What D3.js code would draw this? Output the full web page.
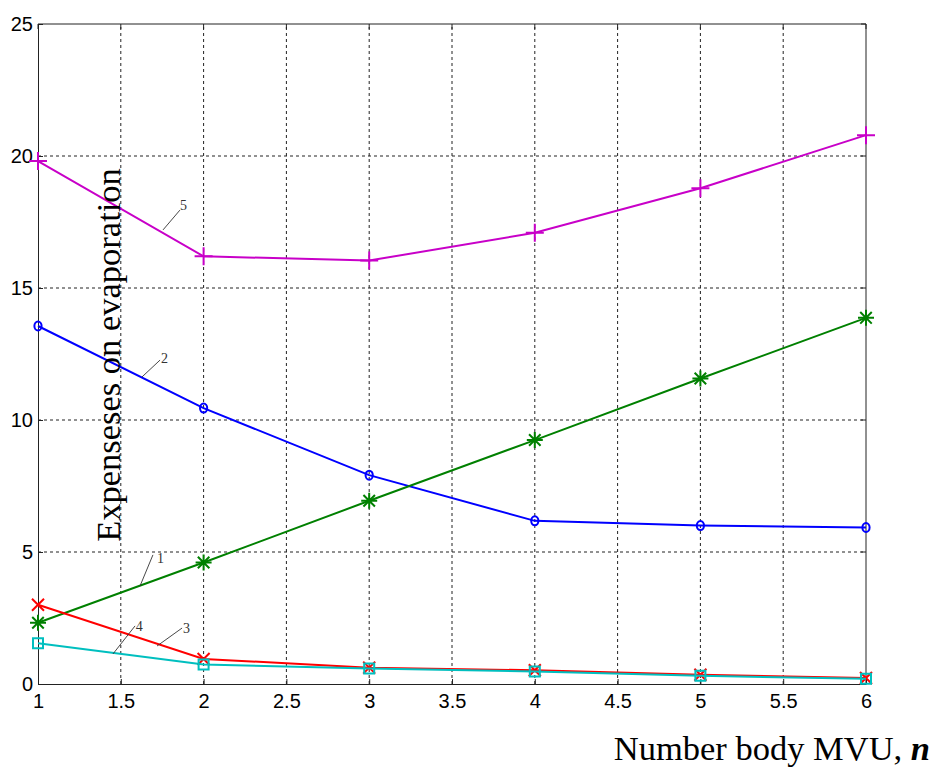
<!DOCTYPE html>
<html>
<head>
<meta charset="utf-8">
<script src="https://cdn.jsdelivr.net/npm/d3@7"></script>
<style>
  body { margin: 0; background: #fff; }
</style>
</head>
<body>
<div id="chart"></div>
<script>
'use strict';

// number of bodies on the x axis
const bodies = [1, 2, 3, 4, 5, 6];
const xTicks = [1, 1.5, 2, 2.5, 3, 3.5, 4, 4.5, 5, 5.5, 6];
const yTicks = [0, 5, 10, 15, 20, 25];

// expenses per curve
const curve1 = [2.32, 4.6, 6.94, 9.24, 11.57, 13.87];
const curve2 = [13.56, 10.45, 7.91, 6.18, 6.0, 5.93];
const curve3 = [3.0, 0.95, 0.62, 0.52, 0.35, 0.23];
const curve4 = [1.54, 0.74, 0.59, 0.47, 0.31, 0.2];
const curve5 = [19.81, 16.2, 16.04, 17.09, 18.78, 20.79];

// curve numbers with leader lines (data units)
const labelNames = ['1', '2', '3', '4', '5'];
const labelFrom = [[1.616, 3.71], [1.628, 11.63], [1.719, 1.44], [1.453, 1.14], [1.755, 17.2]];
const labelTo = [[1.694, 4.89], [1.737, 12.27], [1.87, 2.12], [1.586, 2.2], [1.857, 17.95]];
const labelAt = [[1.719, 4.58], [1.743, 12.16], [1.876, 1.93], [1.59, 2.0], [1.857, 17.95]];

const width = 935, height = 767;
const margin = {top: 24, right: 69, bottom: 83, left: 38};

const svg = d3.select('#chart')
  .append('svg')
    .attr('width', width)
    .attr('height', height);

const x = d3.scaleLinear()
  .domain([1, 6])
  .range([margin.left, width - margin.right]);

const y = d3.scaleLinear()
  .domain([0, 25])
  .range([height - margin.bottom, margin.top]);

const tickFont = '"Liberation Sans", Arial, sans-serif';
const serif = '"Liberation Serif", "Times New Roman", serif';

// grid
svg.append('g')
  .selectAll('line')
  .data(xTicks.slice(1, -1))
  .join('line')
    .attr('x1', d => x(d)).attr('x2', d => x(d))
    .attr('y1', y(0)).attr('y2', y(25))
    .attr('stroke', '#222')
    .attr('stroke-width', 1)
    .attr('stroke-dasharray', '3,3');

svg.append('g')
  .selectAll('line')
  .data(yTicks.slice(1, -1))
  .join('line')
    .attr('x1', x(1)).attr('x2', x(6))
    .attr('y1', d => y(d)).attr('y2', d => y(d))
    .attr('stroke', '#222')
    .attr('stroke-width', 1)
    .attr('stroke-dasharray', '3,3');

// axes
const xAxis = svg.append('g')
  .attr('transform', `translate(0,${y(0)})`)
  .call(d3.axisBottom(x).tickValues(xTicks).tickFormat(d3.format('')).tickSizeInner(-5).tickSizeOuter(0).tickPadding(10));
const yAxis = svg.append('g')
  .attr('transform', `translate(${x(1)},0)`)
  .call(d3.axisLeft(y).tickValues(yTicks).tickSizeInner(-5).tickSizeOuter(0).tickPadding(5));

[xAxis, yAxis].forEach(a => {
  a.select('.domain').attr('stroke', '#222');
  a.selectAll('.tick line').attr('stroke', '#222');
  a.selectAll('text')
    .attr('fill', '#000')
    .style('font-family', tickFont)
    .style('font-size', '20px');
});

// top and right frame with inward ticks
svg.append('line')
  .attr('x1', x(1)).attr('x2', x(6)).attr('y1', y(25)).attr('y2', y(25))
  .attr('stroke', '#222');
svg.append('line')
  .attr('x1', x(6)).attr('x2', x(6)).attr('y1', y(0)).attr('y2', y(25))
  .attr('stroke', '#222');
svg.append('g').selectAll('line').data(xTicks).join('line')
  .attr('x1', d => x(d)).attr('x2', d => x(d))
  .attr('y1', y(25)).attr('y2', y(25) + 5)
  .attr('stroke', '#222');
svg.append('g').selectAll('line').data(yTicks).join('line')
  .attr('x1', x(6)).attr('x2', x(6) - 5)
  .attr('y1', d => y(d)).attr('y2', d => y(d))
  .attr('stroke', '#222');

// marker shapes
const markers = {
  plus: s => `M${-s},0H${s}M0,${-s}V${s}`,
  cross: s => `M${-s},${-s}L${s},${s}M${-s},${s}L${s},${-s}`,
  star: s => {
    const d = s * 0.72;
    return `M${-s},0H${s}M0,${-s}V${s}M${-d},${-d}L${d},${d}M${-d},${d}L${d},${-d}`;
  },
  square: s => `M${-s},${-s}H${s}V${s}H${-s}Z`,
  circle: s => `M${-s * 0.8},0A${s * 0.8},${s} 0 1,0 ${s * 0.8},0A${s * 0.8},${s} 0 1,0 ${-s * 0.8},0`
};

const series = [
  {values: curve5, color: '#c800c8', marker: 'plus', size: 9},
  {values: curve2, color: '#0000ff', marker: 'circle', size: 4.5},
  {values: curve1, color: '#008000', marker: 'star', size: 8},
  {values: curve3, color: '#ff0000', marker: 'cross', size: 6},
  {values: curve4, color: '#00bfbf', marker: 'square', size: 5}
];

const line = d3.line()
  .x(d => x(d[0]))
  .y(d => y(d[1]));

series.forEach(s => {
  const pts = bodies.map((b, i) => [b, s.values[i]]);
  svg.append('path')
    .datum(pts)
    .attr('d', line)
    .attr('fill', 'none')
    .attr('stroke', s.color)
    .attr('stroke-width', 2);
  svg.append('g')
    .selectAll('path')
    .data(pts)
    .join('path')
      .attr('transform', d => `translate(${x(d[0])},${y(d[1])})`)
      .attr('d', markers[s.marker](s.size))
      .attr('fill', 'none')
      .attr('stroke', s.color)
      .attr('stroke-width', 2);
});

// curve number labels
labelNames.forEach((name, i) => {
  svg.append('line')
    .attr('x1', x(labelFrom[i][0])).attr('y1', y(labelFrom[i][1]))
    .attr('x2', x(labelTo[i][0])).attr('y2', y(labelTo[i][1]))
    .attr('stroke', '#333')
    .attr('stroke-width', 0.9);
  svg.append('text')
    .attr('x', x(labelAt[i][0]))
    .attr('y', y(labelAt[i][1]))
    .attr('fill', '#333')
    .style('font-family', serif)
    .style('font-size', '14px')
    .text(name);
});

// axis titles
svg.append('text')
  .attr('transform', `translate(120,355) rotate(-90)`)
  .attr('text-anchor', 'middle')
  .style('font-family', serif)
  .style('font-size', '34.5px')
  .text('Expenseses on evaporation');

const xTitle = svg.append('text')
  .attr('x', 930)
  .attr('y', 760)
  .attr('text-anchor', 'end')
  .style('font-family', serif)
  .style('font-size', '34.5px');
xTitle.append('tspan').text('Number body MVU, ');
xTitle.append('tspan')
  .style('font-weight', 'bold')
  .style('font-style', 'italic')
  .text('n');
</script>
</body>
</html>
